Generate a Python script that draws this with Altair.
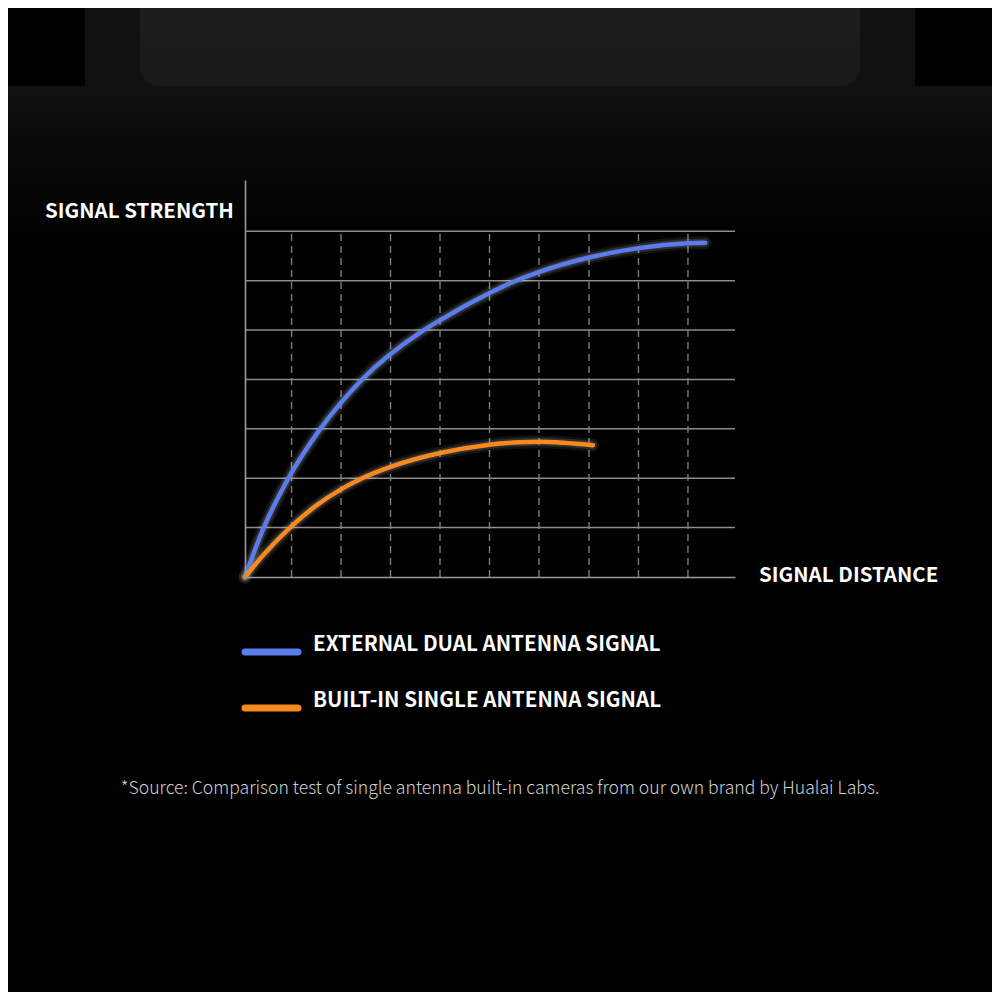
import altair as alt
import pandas as pd

# ---------------- data ----------------
series_names = ["EXTERNAL DUAL ANTENNA SIGNAL", "BUILT-IN SINGLE ANTENNA SIGNAL"]
series_colors = ["#5b7cec", "#f7891f"]

blue_x = [0, 0.37, 0.88, 1.53, 2.39, 3.65, 3.98, 4.99, 5.41, 6.01, 7.02, 8.03, 9.04, 9.39]
blue_y = [0, 0.97, 1.99, 2.99, 4.00, 5.00, 5.20, 5.75, 5.95, 6.18, 6.47, 6.66, 6.76, 6.77]

orange_x = [0, 0.37, 0.94, 1.43, 1.95, 2.39, 2.97, 3.98, 4.99, 5.60, 6.01, 6.50, 7.10]
orange_y = [0, 0.44, 1.02, 1.43, 1.77, 2.00, 2.23, 2.51, 2.68, 2.73, 2.74, 2.72, 2.67]

x_grid = [0.95, 1.96, 2.97, 3.98, 4.99, 6.0, 7.02, 8.03, 9.04]
y_grid = [1, 2, 3, 4, 5, 6, 7]
x_max = 10
y_max = 8.04
grid_top = 7

y_title = "SIGNAL STRENGTH"
x_title = "SIGNAL DISTANCE"
source_note = "*Source: Comparison test of single antenna built-in cameras from our own brand by Hualai Labs."

FONT = "Noto Sans CJK SC"

# ---------------- tables ----------------
rows = []
for i, (xv, yv) in enumerate(zip(blue_x, blue_y)):
    rows.append({"series": series_names[0], "x": xv, "y": yv, "i": i})
for i, (xv, yv) in enumerate(zip(orange_x, orange_y)):
    rows.append({"series": series_names[1], "x": xv, "y": yv, "i": i})
df_lines = pd.DataFrame(rows)

df_hgrid = pd.DataFrame({"y": y_grid, "x0": [0] * len(y_grid), "x1": [x_max] * len(y_grid)})
df_vgrid = pd.DataFrame({"x": x_grid, "y0": [0] * len(x_grid), "y1": [grid_top] * len(x_grid)})

xs = alt.Scale(domain=[0, x_max], nice=False, zero=True)
ys = alt.Scale(domain=[0, y_max], nice=False, zero=True)
cs = alt.Scale(domain=series_names, range=series_colors)

axis_x = alt.Axis(domain=True, domainColor="#9a9a9a", domainWidth=1.6, ticks=False,
                  labels=False, grid=False, title="", zindex=1)
axis_y = alt.Axis(domain=True, domainColor="#9a9a9a", domainWidth=1.6, ticks=False,
                  labels=False, grid=False, title="", zindex=1)

# ---------------- decorative product silhouette ----------------
deco = pd.DataFrame({"k": [0]})
box_outer = alt.Chart(deco).mark_rect(color="#111111", cornerRadius=26).encode(
    x=alt.value(-160), x2=alt.value(670), y=alt.value(-200), y2=alt.value(-70))
box_inner = alt.Chart(deco).mark_rect(
    cornerRadius=18,
    color=alt.LinearGradient(gradient="linear", x1=0, y1=0, x2=0, y2=1,
                             stops=[alt.GradientStop(color="#1f1f1f", offset=0),
                                    alt.GradientStop(color="#181818", offset=1)])
).encode(x=alt.value(-105), x2=alt.value(615), y=alt.value(-200), y2=alt.value(-94))
dome = alt.Chart(deco).mark_rect(
    cornerRadiusTopLeft=140, cornerRadiusTopRight=140,
    color=alt.LinearGradient(gradient="linear", x1=0, y1=0, x2=0, y2=1,
                             stops=[alt.GradientStop(color="#121212", offset=0),
                                    alt.GradientStop(color="#0a0a0a", offset=0.35),
                                    alt.GradientStop(color="#000000", offset=1)])
).encode(x=alt.value(-330), x2=alt.value(840), y=alt.value(-94), y2=alt.value(60))

# ---------------- grid and axes ----------------
hgrid = alt.Chart(df_hgrid).mark_rule(color="#8c8c8c", strokeWidth=1.5).encode(
    x=alt.X("x0:Q", scale=xs, axis=axis_x), x2="x1:Q",
    y=alt.Y("y:Q", scale=ys, axis=axis_y))
vgrid = alt.Chart(df_vgrid).mark_rule(color="#7c7c7c", strokeWidth=1.4, strokeDash=[7, 5]).encode(
    x=alt.X("x:Q", scale=xs, axis=axis_x),
    y=alt.Y("y0:Q", scale=ys, axis=axis_y), y2="y1:Q")

# ---------------- lines with glow ----------------
base = alt.Chart(df_lines).encode(
    x=alt.X("x:Q", scale=xs, axis=axis_x),
    y=alt.Y("y:Q", scale=ys, axis=axis_y),
    detail="series:N",
    order=alt.Order("i:Q"),
)
glow_outer = base.mark_line(interpolate="monotone", strokeWidth=13, opacity=0.07,
                            color="#ffffff", strokeCap="round")
glow_inner = base.mark_line(interpolate="monotone", strokeWidth=8.5, opacity=0.12,
                            color="#ffffff", strokeCap="round")
main = base.mark_line(interpolate="monotone", strokeWidth=4.5, strokeCap="round").encode(
    color=alt.Color("series:N", scale=cs, legend=None))

# ---------------- texts ----------------
def label(txt, x, y, size, weight="bold", color="#ffffff", align="left"):
    return alt.Chart(pd.DataFrame({"t": [txt]})).mark_text(
        font=FONT, fontSize=size, fontWeight=weight, color=color, align=align,
        baseline="middle").encode(x=alt.value(x), y=alt.value(y), text="t:N")

t_y = label(y_title, -200, 32, 20.5)
t_x = label(x_title, 514, 396, 20.5)
t_src = label(source_note, 255, 609, 17.6, weight=300, color="#d0d0d0", align="center")

legend_layers = []
for k, name in enumerate(series_names):
    ypos = 472 + 56 * k
    sw = alt.Chart(pd.DataFrame({"series": [name]})).mark_rule(
        strokeWidth=7, strokeCap="round").encode(
        x=alt.value(0), x2=alt.value(53), y=alt.value(ypos),
        color=alt.Color("series:N", scale=cs, legend=None))
    legend_layers.append(sw)
    legend_layers.append(label(name, 68, ypos - 7, 20.6))

chart = alt.layer(
    box_outer, box_inner, dome,
    hgrid, vgrid, glow_outer, glow_inner, main,
    t_y, t_x, t_src, *legend_layers
).properties(
    width=490, height=397,
    autosize=alt.AutoSizeParams(type="none"),
    padding={"left": 237, "top": 172, "right": 257, "bottom": 415},
    background="#000000",
).configure_view(stroke=None)

chart.save("out.html", embed_options={"renderer": "svg", "actions": False})
